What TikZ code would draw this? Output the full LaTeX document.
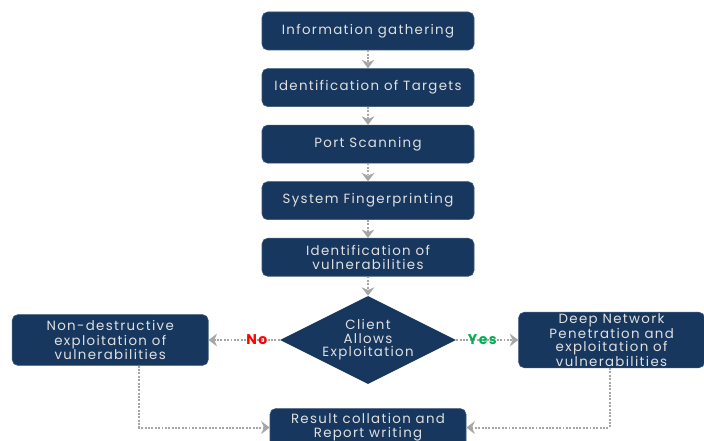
\documentclass[tikz,border=0pt]{standalone}
\usepackage{fontspec}
\setmainfont{Poppins}[LetterSpace=10]
\usetikzlibrary{shapes.geometric, arrows.meta, positioning}
\usepackage{xcolor}

\definecolor{navy}{HTML}{17375E}
\definecolor{link}{HTML}{A6A6A6}
\definecolor{nored}{HTML}{FF0000}
\definecolor{yesgreen}{HTML}{00B050}

\begin{document}
\begin{tikzpicture}[
  s/.style={rectangle, draw=navy!85!white, fill=navy, rounded corners=4pt, minimum width=5.3cm,
            minimum height=0.95cm, align=center, text=white!88!black, inner sep=1pt,
            font=\fontsize{9.5}{10}\selectfont},
  d/.style={diamond, fill=navy, aspect=2, inner sep=0pt, minimum width=4.4cm,
            minimum height=2.2cm, align=center, text=white!88!black,
            font=\fontsize{9.5}{9.5}\selectfont},
  a/.style={densely dotted, line width=1.4pt, draw=link, -{Stealth[length=6pt, width=9pt]}},
  lbl/.style={font=\bfseries\fontsize{10}{10}\selectfont, inner sep=1pt},
  node distance=0.45cm and 1.6cm,
]
  \useasboundingbox (0,0) rectangle (17.6,11.025);

  \node[s] (info) at (9.2,10.25) {Information gathering};
  \node[s, below=of info]    (targets) {Identification of Targets};
  \node[s, below=of targets] (ports)   {Port Scanning};
  \node[s, below=of ports]   (finger)  {System Fingerprinting};
  \node[s, below=of finger]  (vulns)   {Identification of\\vulnerabilities};

  \node[d, below=0.48cm of vulns] (allow) {Client\\Allows\\Exploitation};

  \node[s, minimum width=4.9cm, minimum height=1.27cm, left=1.78cm of allow] (nondes)
    {Non-destructive\\exploitation of\\vulnerabilities};
  \node[s, minimum width=4.65cm, minimum height=1.27cm, right=1.55cm of allow,
        font=\fontsize{9.5}{9}\selectfont] (deep)
    {Deep Network\\Penetration and\\exploitation of\\vulnerabilities};

  \node[s, minimum width=4.9cm, below=0.6cm of allow] (report)
    {Result collation and\\Report writing};

  \draw[a] (info) -- (targets);
  \draw[a] (targets) -- (ports);
  \draw[a] (ports) -- (finger);
  \draw[a] (finger) -- (vulns);
  \draw[a] (vulns) -- (allow);

  \draw[a] (allow) -- node[lbl, pos=0.32, text=nored] {No} (nondes);
  \draw[a] (allow) -- node[lbl, pos=0.42, text=yesgreen] {Yes} (deep);

  \draw[a] ([xshift=0.72cm]nondes.south) |- (report.west);
  \draw[a] ([xshift=-0.05cm]deep.south) |- (report.east);
\end{tikzpicture}
\end{document}
